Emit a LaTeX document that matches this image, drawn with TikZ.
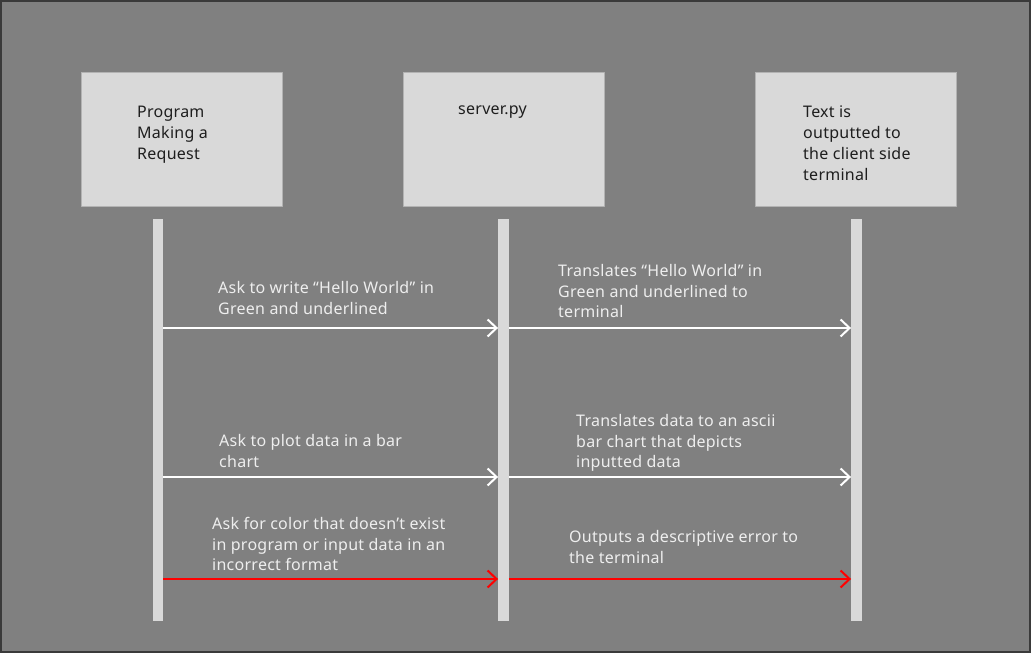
\documentclass[tikz,border=0pt]{standalone}
\usepackage{fontspec}
\setmainfont[LetterSpace=1.6]{Noto Sans}
\usetikzlibrary{arrows.meta}
\definecolor{framecol}{HTML}{3A3A3A}
\definecolor{bggray}{HTML}{808080}
\definecolor{boxfill}{HTML}{D9D9D9}
\definecolor{boxedge}{HTML}{B3B3B3}
\definecolor{boxtext}{HTML}{1E1E1E}
\definecolor{msgtext}{HTML}{EEEEEE}
\definecolor{errred}{HTML}{FF0000}
\begin{document}
\begin{tikzpicture}[x=1pt,y=-1pt,line join=round,
	actor/.style={draw=boxedge,line width=1pt,fill=boxfill,minimum width=201pt,minimum height=134pt,inner sep=0pt},
	lifeline/.style={fill=boxfill,minimum width=10.5pt,minimum height=402pt,inner sep=0pt},
	lbl/.style={anchor=north west,inner sep=0pt,align=left,font=\fontsize{16}{20.7}\selectfont},
	msg/.style={line width=2pt,-{Straight Barb[length=9pt,width=17pt,line width=2pt]}}]
	\useasboundingbox (0,0) rectangle (1031,653);
	\fill[framecol] (0,0) rectangle (1031,653);
	\fill[bggray] (2,2) rectangle (1029,651);
	\node[actor] (prog) at (181.5,139) {};
	\node[actor] (server) at (503.5,139) {};
	\node[actor] (term) at (856,139) {};
	\node[lifeline] (lprog) at (158,420) {};
	\node[lifeline] (lserver) at (503.5,420) {};
	\node[lifeline] (lterm) at (856.5,420) {};
	\node[lbl,text=boxtext] (progtxt) at (137,106) {Program\\Making a\\Request};
	\node[lbl,text=boxtext] (servertxt) at (458,106) {server.py};
	\node[lbl,text=boxtext] (termtxt) at (803,106) {Text is\\outputted to\\the client side\\terminal};
	\draw[msg,white] (lprog.east |- 0,328) -- (lserver.west |- 0,328);
	\draw[msg,white] (lserver.east |- 0,328) -- (lterm.west |- 0,328);
	\draw[msg,white] (lprog.east |- 0,477) -- (lserver.west |- 0,477);
	\draw[msg,white] (lserver.east |- 0,477) -- (lterm.west |- 0,477);
	\draw[msg,errred] (lprog.east |- 0,579) -- (lserver.west |- 0,579);
	\draw[msg,errred] (lserver.east |- 0,579) -- (lterm.west |- 0,579);
	\node[lbl,text=msgtext] (ask1) at (218,281) {Ask to write “Hello World” in\\Green and underlined};
	\node[lbl,text=msgtext] (tr1) at (558,264) {Translates “Hello World” in\\Green and underlined to\\terminal};
	\node[lbl,text=msgtext] (ask2) at (219,434) {Ask to plot data in a bar\\chart};
	\node[lbl,text=msgtext] (tr2) at (576,414) {Translates data to an ascii\\bar chart that depicts\\inputted data};
	\node[lbl,text=msgtext] (ask3) at (212,517) {Ask for color that doesn’t exist\\in program or input data in an\\incorrect format};
	\node[lbl,text=msgtext] (err3) at (569,530) {Outputs a descriptive error to\\the terminal};
\end{tikzpicture}
\end{document}
